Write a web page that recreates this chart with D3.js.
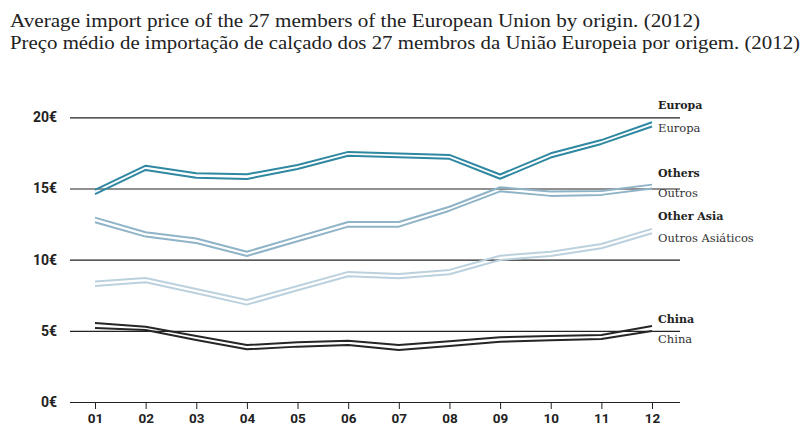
<!DOCTYPE html>
<html>
<head>
<meta charset="utf-8">
<script src="https://cdn.jsdelivr.net/npm/d3@7"></script>
<style>
  body { margin: 0; background: #fff; }
  .title { font-family: "Liberation Serif", serif; font-size: 19px; fill: #222; }
  .tick text { font-family: "Roboto", "DejaVu Sans", sans-serif; font-weight: 700; fill: #222; }
  .lbl-b { font-family: "DejaVu Serif", serif; font-weight: 700; font-size: 11px; fill: #222; }
  .lbl { font-family: "DejaVu Serif", serif; font-size: 11.5px; fill: #333; }
</style>
</head>
<body>
<div id="root"></div>
<script>
const months = ["01", "02", "03", "04", "05", "06", "07", "08", "09", "10", "11", "12"];
const yTicks = [0, 5, 10, 15, 20];

// each series is drawn as a double line: upper and lower trace
const europaUp   = [14.9, 16.6, 16.07, 16.0, 16.65, 17.57, 17.45, 17.36, 15.98, 17.47, 18.4, 19.65];
const europaLow  = [14.6, 16.3, 15.76, 15.67, 16.37, 17.3, 17.2, 17.08, 15.68, 17.17, 18.13, 19.35];
const othersUp   = [12.95, 11.92, 11.48, 10.56, 11.6, 12.65, 12.65, 13.72, 15.09, 14.78, 14.83, 15.27];
const othersLow  = [12.63, 11.62, 11.17, 10.26, 11.29, 12.32, 12.32, 13.44, 14.8, 14.48, 14.55, 14.99];
const asiaUp     = [8.46, 8.71, 7.94, 7.17, 8.15, 9.14, 9.0, 9.28, 10.28, 10.56, 11.1, 12.16];
const asiaLow    = [8.15, 8.41, 7.64, 6.84, 7.85, 8.83, 8.69, 8.97, 9.98, 10.26, 10.8, 11.85];
const chinaUp    = [5.55, 5.29, 4.64, 4.0, 4.19, 4.31, 4.0, 4.26, 4.55, 4.64, 4.71, 5.34];
const chinaLow   = [5.2, 5.06, 4.36, 3.7, 3.89, 4.0, 3.65, 3.94, 4.24, 4.33, 4.43, 4.99];

const series = [
  { en: "Europa", pt: "Europa", up: europaUp, low: europaLow, color: "#2f88a2", dyB: -13, dyR: 5.5 },
  { en: "Others", pt: "Outros", up: othersUp, low: othersLow, color: "#8fb3c7", dyB: -7.5, dyR: 8.5 },
  { en: "Other Asia", pt: "Outros Asiáticos", up: asiaUp, low: asiaLow, color: "#bcd1de", dyB: -9, dyR: 8.5 },
  { en: "China", pt: "China", up: chinaUp, low: chinaLow, color: "#262626", dyB: -3, dyR: 12 }
];

const W = 803, H = 428;

const svg = d3.select("#root").append("svg")
    .attr("width", W)
    .attr("height", H);

svg.append("text").attr("class", "title")
    .attr("x", 10).attr("y", 27)
    .attr("textLength", 690).attr("lengthAdjust", "spacingAndGlyphs")
    .text("Average import price of the 27 members of the European Union by origin. (2012)");
svg.append("text").attr("class", "title")
    .attr("x", 10).attr("y", 49)
    .attr("textLength", 790).attr("lengthAdjust", "spacingAndGlyphs")
    .text("Preço médio de importação de calçado dos 27 membros da União Europeia por origem. (2012)");

const x = d3.scalePoint().domain(months).range([95, 652]);
const y = d3.scaleLinear().domain([0, 20]).range([402, 117.3]);

// grid lines with euro labels
const yAxis = d3.axisLeft(y)
    .tickValues(yTicks)
    .tickSize(-(680 - 70))
    .tickPadding(13)
    .tickFormat(d => d + "€");

svg.append("g")
    .attr("transform", "translate(70,0)")
    .call(yAxis)
    .call(g => g.select(".domain").remove())
    .call(g => g.selectAll(".tick line").attr("stroke", "#222").attr("stroke-width", 1.2))
    .call(g => g.selectAll(".tick text").attr("font-size", 14));

const xAxis = d3.axisBottom(x).tickSize(7).tickPadding(4);
svg.append("g")
    .attr("transform", "translate(0,402)")
    .call(xAxis)
    .call(g => g.select(".domain").remove())
    .call(g => g.selectAll(".tick line").attr("stroke", "#222"))
    .call(g => g.selectAll(".tick text").attr("font-size", 13.5));

const line = d3.line()
    .x((d, i) => x(months[i]))
    .y(d => y(d));

const lines = svg.append("g");
series.forEach(s => {
  [s.up, s.low].forEach(vals => {
    lines.append("path")
        .datum(vals)
        .attr("fill", "none")
        .attr("stroke", s.color)
        .attr("stroke-width", 2)
        .attr("stroke-linejoin", "round")
        .attr("d", line);
  });
  const last = months.length - 1;
  svg.append("text").attr("class", "lbl-b")
      .attr("x", 658).attr("y", y(s.up[last]) + s.dyB)
      .text(s.en);
  svg.append("text").attr("class", "lbl")
      .attr("x", 658).attr("y", y(s.low[last]) + s.dyR)
      .text(s.pt);
});
</script>
</body>
</html>
